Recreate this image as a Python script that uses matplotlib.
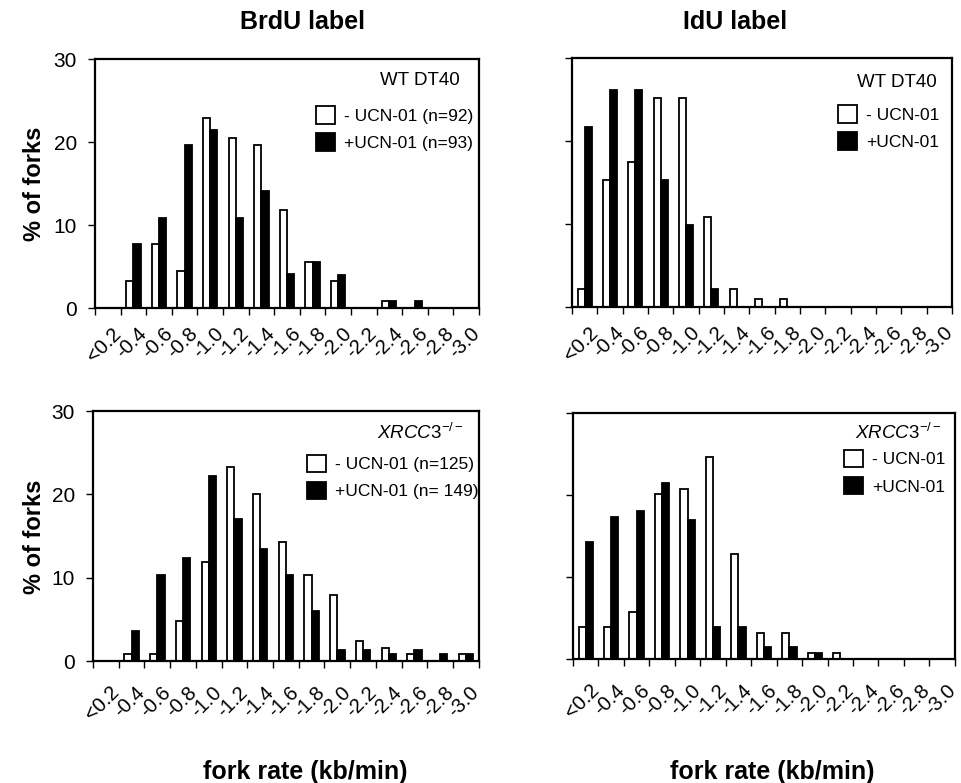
import matplotlib.pyplot as plt
import matplotlib.transforms as mtransforms
from matplotlib.patches import Patch
import numpy as np

plt.rcParams['font.family'] = ['Liberation Sans', 'DejaVu Sans']
plt.rcParams['mathtext.fontset'] = 'custom'
plt.rcParams['mathtext.it'] = 'Liberation Sans:italic'
plt.rcParams['mathtext.rm'] = 'Liberation Sans'

bins = ['<0.2', '-0.4', '-0.6', '-0.8', '-1.0', '-1.2', '-1.4', '-1.6',
        '-1.8', '-2.0', '-2.2', '-2.4', '-2.6', '-2.8', '-3.0']

# BrdU label, WT DT40
brdu_wt_minus = [0, 3.3, 7.7, 4.5, 22.9, 20.5, 19.6, 11.8, 5.5, 3.3, 0, 0.9, 0, 0, 0]
brdu_wt_plus = [0, 7.7, 10.8, 19.6, 21.4, 10.8, 14.1, 4.1, 5.5, 4.0, 0, 0.9, 0.9, 0, 0]
# IdU label, WT DT40
idu_wt_minus = [2.2, 15.3, 17.5, 25.2, 25.2, 10.8, 2.2, 1.0, 1.0, 0, 0, 0, 0, 0, 0]
idu_wt_plus = [21.7, 26.2, 26.2, 15.3, 9.9, 2.2, 0, 0, 0, 0, 0, 0, 0, 0, 0]
# BrdU label, XRCC3-/-
brdu_x_minus = [0, 0.8, 0.8, 4.8, 11.9, 23.3, 20.1, 14.3, 10.3, 7.9, 2.4, 1.6, 0.8, 0, 0.8]
brdu_x_plus = [0, 3.6, 10.3, 12.4, 22.2, 17.0, 13.5, 10.3, 6.0, 1.3, 1.3, 0.8, 1.3, 0.8, 0.8]
# IdU label, XRCC3-/-
idu_x_minus = [3.9, 3.9, 5.7, 20.1, 20.8, 24.7, 12.8, 3.2, 3.2, 0.7, 0.7, 0, 0, 0, 0]
idu_x_plus = [14.3, 17.3, 18.0, 21.5, 17.0, 3.9, 3.9, 1.4, 1.4, 0.7, 0, 0, 0, 0, 0]

fig = plt.figure(figsize=(9.62, 7.83), dpi=100)

panels = [
    # (rect, minus, plus, strain, legend labels, legend anchor, strain pos, tick pad)
    ([0.0988, 0.6066, 0.399, 0.318], brdu_wt_minus, brdu_wt_plus, 'WT DT40',
     ['- UCN-01 (n=92)', '+UCN-01 (n=93)'], (0.575, 0.81), (0.95, 0.915), 11.5),
    ([0.5946, 0.6079, 0.395, 0.318], idu_wt_minus, idu_wt_plus, 'WT DT40',
     ['- UCN-01', '+UCN-01'], (0.70, 0.81), (0.96, 0.90), 11.5),
    ([0.0967, 0.1558, 0.401, 0.319], brdu_x_minus, brdu_x_plus, r'$\mathit{XRCC3}^{-/-}$',
     ['- UCN-01 (n=125)', '+UCN-01 (n= 149)'], (0.555, 0.825), (0.96, 0.915), 15.5),
    ([0.5956, 0.1584, 0.397, 0.314], idu_x_minus, idu_x_plus, r'$\mathit{XRCC3}^{-/-}$',
     ['- UCN-01', '+UCN-01'], (0.71, 0.85), (0.965, 0.92), 15.5),
]

x = np.arange(len(bins))
w = 0.28
offset = mtransforms.ScaledTranslation(17 / 100, 0, fig.dpi_scale_trans)

for rect, minus, plus, strain, labels, lpos, spos, pad in panels:
    ax = fig.add_axes(rect)
    ax.bar(x - w / 2, minus, w, color='white', edgecolor='black', linewidth=1.3)
    ax.bar(x + w / 2, plus, w, color='black', edgecolor='black', linewidth=1.3)
    ax.set_xlim(-0.5, len(bins) - 0.5)
    ax.set_ylim(0, 30)
    ax.set_yticks([0, 10, 20, 30])
    ax.set_xticks(np.arange(-0.5, len(bins) + 0.5, 1))
    ax.set_xticklabels([])
    ax.set_xticks(x, minor=True)
    ax.set_xticklabels(bins, minor=True, rotation=45, ha='right', va='top', fontsize=14.5)
    ax.tick_params(axis='x', which='minor', length=0, pad=pad)
    ax.tick_params(axis='x', which='major', direction='out', length=5, width=1)
    ax.tick_params(axis='y', direction='out', length=5, width=1, labelsize=15, pad=8)
    for lbl in ax.get_xticklabels(minor=True):
        lbl.set_transform(lbl.get_transform() + offset)
    if rect[0] > 0.5:
        ax.set_yticklabels([])
    for s in ax.spines.values():
        s.set_linewidth(1.6)
    ax.text(spos[0], spos[1], strain, transform=ax.transAxes, ha='right', va='center', fontsize=13.5)
    handles = [Patch(facecolor='white', edgecolor='black', linewidth=1.3),
               Patch(facecolor='black', edgecolor='black', linewidth=1.3)]
    ax.legend(handles, labels, loc='upper left', bbox_to_anchor=lpos, frameon=False,
              fontsize=12.5, handlelength=1.1, handleheight=1.15, handletextpad=0.5,
              labelspacing=0.55, borderpad=0, borderaxespad=0)

fig.text(0.314, 0.972, 'BrdU label', ha='center', va='center', fontsize=18, fontweight='bold')
fig.text(0.764, 0.972, 'IdU label', ha='center', va='center', fontsize=18, fontweight='bold')
fig.text(0.036, 0.765, '% of forks', ha='center', va='center', rotation=90, fontsize=17, fontweight='bold')
fig.text(0.036, 0.315, '% of forks', ha='center', va='center', rotation=90, fontsize=17, fontweight='bold')
fig.text(0.317, 0.014, 'fork rate (kb/min)', ha='center', va='center', fontsize=18, fontweight='bold')
fig.text(0.803, 0.014, 'fork rate (kb/min)', ha='center', va='center', fontsize=18, fontweight='bold')

fig.savefig('out.png', dpi=100, facecolor='white')
